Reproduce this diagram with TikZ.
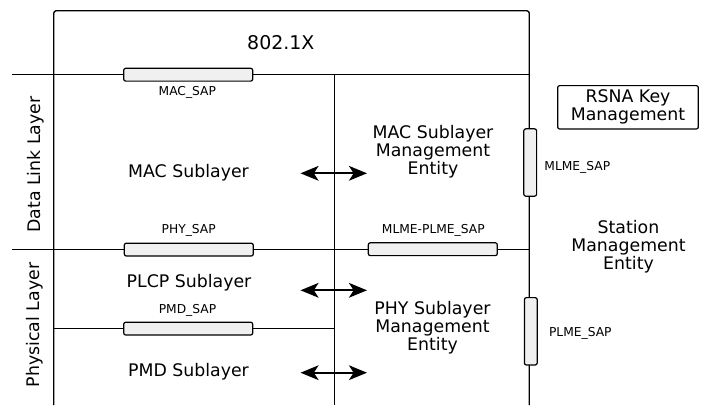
\documentclass[tikz,border=0pt]{standalone}
\usepackage{fontspec}
\setmainfont{DejaVu Sans}
\usetikzlibrary{arrows.meta}
\begin{document}
\begin{tikzpicture}[x=0.75pt,y=-0.75pt,
  frame/.style={line width=1pt},
  sapbar/.style={draw, fill=black!6, rounded corners=1.5pt, line width=0.9pt, inner sep=0pt},
  hsap/.style={sapbar, minimum width=96.75pt, minimum height=9.6pt},
  vsap/.style={sapbar, minimum width=9.6pt, minimum height=50.5pt},
  saplabel/.style={font=\fontsize{9.2}{11}\selectfont, inner sep=0pt},
  bigtext/.style={font=\fontsize{13}{13.5}\selectfont, align=center, inner sep=0pt},
  dblarrow/.style={{Stealth[length=13.5pt,width=11pt,inset=3.5pt]}-{Stealth[length=13.5pt,width=11pt,inset=3.5pt]}, line width=1.7pt}]
\useasboundingbox (0,0) rectangle (711,405);

% frame and layer boundaries
\coordinate (fbl) at (53.7,405);
\coordinate (ftl) at (53.7,10.7);
\coordinate (ftr) at (529.3,10.7);
\coordinate (fbr) at (529.3,405);
\coordinate (l1a) at (12,74.3);   \coordinate (l1b) at (529.3,74.3);
\coordinate (l2a) at (12,249.3);  \coordinate (l2b) at (529.3,249.3);
\coordinate (l3a) at (53.7,328.3); \coordinate (l3b) at (334.7,328.3);
\coordinate (vma) at (334.7,74.3); \coordinate (vmb) at (334.7,405);

\draw[frame, rounded corners=2pt] (fbl) -- (ftl) -- (ftr) -- (fbr);
\draw[frame] (l1a) -- (l1b);
\draw[frame] (l2a) -- (l2b);
\draw[frame] (l3a) -- (l3b);
\draw[frame] (vma) -- (vmb);

% service access points
\node[hsap] (macsap) at (188.2,74.7) {};
\node[hsap] (physap) at (188.8,249.6) {};
\node[hsap] (pmdsap) at (188.2,328.6) {};
\node[hsap] (mpsap)  at (432.8,249.2) {};
\node[vsap] (mlmesap) at (530.2,162.5) {};
\node[vsap] (plmesap) at (530.8,331.3) {};

\node[saplabel] (macsapl) at (187.3,92.7) {MAC\_SAP};
\node[saplabel] (physapl) at (188.7,230) {PHY\_SAP};
\node[saplabel] (pmdsapl) at (187.5,310.5) {PMD\_SAP};
\node[saplabel] (mpsapl)  at (433.3,230.7) {MLME-PLME\_SAP};
\node[saplabel] (mlmesapl) at (577.3,167) {MLME\_SAP};
\node[saplabel] (plmesapl) at (580.3,333) {PLME\_SAP};

% texts
\node[font=\fontsize{14.2}{16}\selectfont, inner sep=0pt] (dot1x) at (280.8,42.3) {802.1X};
\node[bigtext] (macsub) at (188.5,172.7) {MAC Sublayer};
\node[bigtext] (plcp) at (189,282.7) {PLCP Sublayer};
\node[bigtext] (pmd) at (188.5,371.7) {PMD Sublayer};
\node[bigtext] (mlme) at (433,152) {MAC Sublayer\\Management\\Entity};
\node[bigtext] (plme) at (432.5,328) {PHY Sublayer\\Management\\Entity};
\node[bigtext] (sme) at (628.5,246.5) {Station\\Management\\Entity};
\node[bigtext, draw, line width=0.9pt, rounded corners=1.5pt,
      minimum width=105.5pt, minimum height=32.5pt] (rsna) at (628,107.3) {RSNA Key\\Management};
\node[bigtext, rotate=90] (dll) at (35.8,164.5) {Data Link Layer};
\node[bigtext, rotate=90] (phyl) at (34.7,325) {Physical Layer};

% sublayer to management entity exchanges
\coordinate (a1l) at (300.5,173.3); \coordinate (a1r) at (367,173.3);
\coordinate (a2l) at (300.5,290.3); \coordinate (a2r) at (367,290.3);
\coordinate (a3l) at (300.5,372.7); \coordinate (a3r) at (367,372.7);
\draw[dblarrow] (a1l) -- (a1r);
\draw[dblarrow] (a2l) -- (a2r);
\draw[dblarrow] (a3l) -- (a3r);
\end{tikzpicture}
\end{document}
